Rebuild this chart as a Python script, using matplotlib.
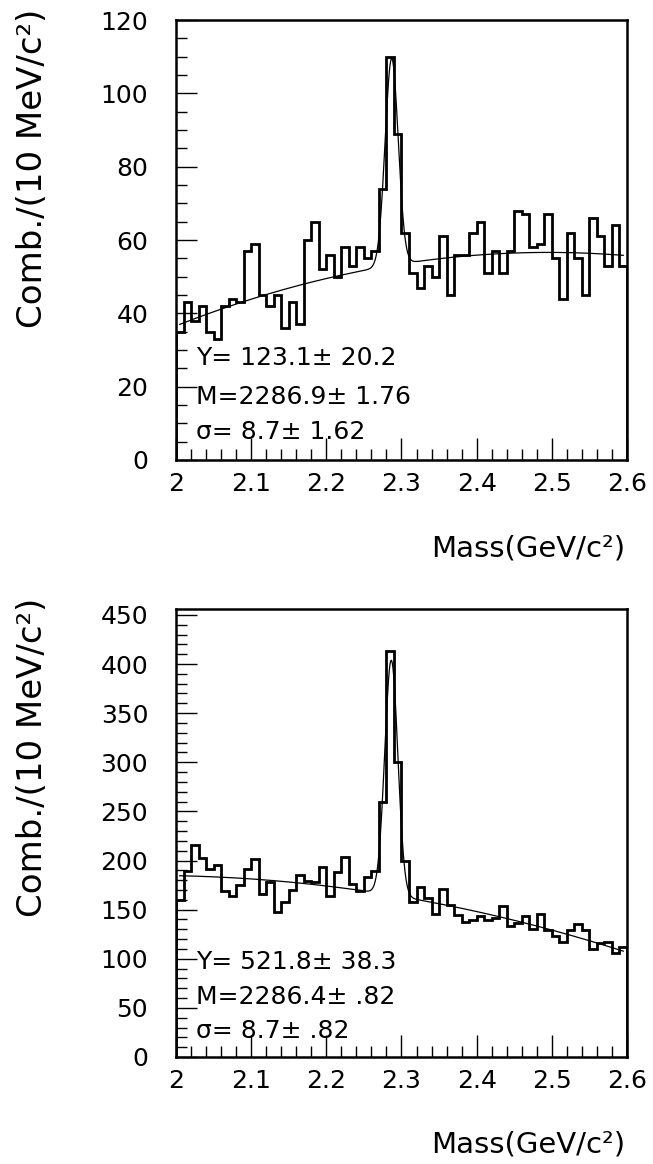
"""
Lambda_c -> p K pi style mass plots: two histograms with Gaussian + polynomial fit.
"""
import matplotlib
matplotlib.use("Agg")
import matplotlib.pyplot as plt
import numpy as np
from matplotlib.ticker import MultipleLocator

plt.rcParams["font.family"] = ["DejaVu Sans"]

# 60 bins of 10 MeV between 2.0 and 2.6 GeV
mass_lo, mass_hi, n_bins = 2.0, 2.6, 60

counts_top = [
    35, 43, 38, 42, 35, 33, 42, 44, 43, 57,
    59, 45, 42, 45, 36, 43, 37, 60, 65, 52,
    56, 50, 58, 53, 58, 55, 57, 74, 110, 89,
    62, 51, 47, 53, 50, 61, 45, 56, 56, 62,
    65, 51, 57, 51, 57, 68, 67, 58, 59, 67,
    55, 44, 62, 55, 45, 66, 61, 53, 64, 53,
]
counts_bottom = [
    160, 189, 216, 203, 191, 195, 169, 164, 175, 191,
    202, 166, 178, 148, 158, 170, 185, 179, 178, 193,
    164, 188, 204, 176, 169, 183, 189, 260, 413, 300,
    199, 158, 173, 162, 146, 171, 155, 145, 137, 139,
    144, 139, 141, 154, 133, 136, 144, 130, 146, 129,
    123, 117, 129, 135, 129, 110, 116, 117, 106, 112,
]

# fit results shown on the plots (yield, mass in MeV, sigma in MeV)
fit_top = (123.1, 2286.9, 8.7)
fit_bottom = (521.8, 2286.4, 8.7)
# quadratic background, in (m - 2.3)
bkg_top = (53.5, 31.9, -81.6)
bkg_bottom = (163.0, -130.1, -194.1)

text_top = ["Y= 123.1\u00b1 20.2", "M=2286.9\u00b1 1.76", "\u03c3= 8.7\u00b1 1.62"]
text_bottom = ["Y= 521.8\u00b1 38.3", "M=2286.4\u00b1 .82", "\u03c3= 8.7\u00b1 .82"]

W, H = 653, 1164


def fit_curve(m, fit, bkg, bin_w=0.01):
    y, mu, sig = fit
    mu, sig = mu / 1000.0, sig / 1000.0
    x = m - 2.3
    gauss = y * bin_w / (sig * np.sqrt(2 * np.pi)) * np.exp(-0.5 * ((m - mu) / sig) ** 2)
    return bkg[0] + bkg[1] * x + bkg[2] * x ** 2 + gauss


def draw_panel(fig, rect_px, counts, fit, bkg, lines, ymax, major, minor, text_y):
    left, top, right, bottom = rect_px
    ax = fig.add_axes([left / W, 1 - bottom / H, (right - left) / W, (bottom - top) / H])
    edges = np.linspace(mass_lo, mass_hi, n_bins + 1)
    ax.stairs(counts, edges, baseline=0, color="black", lw=2.0)

    m = np.linspace(2.005, 2.595, 600)
    ax.plot(m, fit_curve(m, fit, bkg), color="black", lw=0.9)

    ax.set_xlim(mass_lo, mass_hi)
    ax.set_ylim(0, ymax)
    ax.xaxis.set_minor_locator(MultipleLocator(0.02))
    ax.yaxis.set_major_locator(MultipleLocator(major))
    ax.yaxis.set_minor_locator(MultipleLocator(minor))
    ax.set_xticks(np.round(np.arange(2.0, 2.61, 0.1), 1))
    ax.set_xticklabels(["2", "2.1", "2.2", "2.3", "2.4", "2.5", "2.6"])
    ax.tick_params(which="both", direction="in", top=False, right=False,
                   width=1.0, labelsize=18)
    ax.tick_params(axis="y", which="major", length=15, pad=20)
    ax.tick_params(axis="y", which="minor", length=8)
    ax.tick_params(axis="x", which="major", length=16, pad=9)
    ax.tick_params(axis="x", which="minor", length=8)
    for sp in ax.spines.values():
        sp.set_linewidth(1.8)

    for txt, ty in zip(lines, text_y):
        ax.text(0.045, ty, txt, transform=ax.transAxes, fontsize=18,
                ha="left", va="center")

    # y label top-justified, x label right-justified (PAW style)
    fig.text(33 / W, 1 - (top - 11) / H, "Comb./(10 MeV/c\u00b2)", rotation=90,
             ha="center", va="top", fontsize=24.5)
    fig.text(625 / W, 1 - (bottom + 88) / H, "Mass(GeV/c\u00b2)",
             ha="right", va="center", fontsize=21)
    return ax


fig = plt.figure(figsize=(W / 100, H / 100), dpi=100)
draw_panel(fig, (176, 20, 627, 460), counts_top, fit_top, bkg_top, text_top,
           120, 20, 5, (0.232, 0.143, 0.064))
draw_panel(fig, (176, 609, 627, 1057), counts_bottom, fit_bottom, bkg_bottom, text_bottom,
           456, 50, 10, (0.213, 0.135, 0.057))
fig.savefig("out.png", dpi=100)
